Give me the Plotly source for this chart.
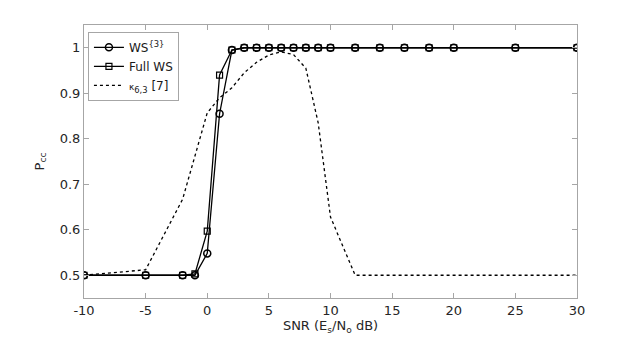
import plotly.graph_objects as go

# SNR points (dB)
snr = [-10, -5, -2, -1, 0, 1, 2, 3, 4, 5, 6, 7, 8, 9, 10, 12, 14, 16, 18, 20, 25, 30]
ws3 = [0.5, 0.5, 0.5, 0.5, 0.548, 0.855, 0.995, 1, 1, 1, 1, 1, 1, 1, 1, 1, 1, 1, 1, 1, 1, 1]
full_ws = [0.5, 0.5, 0.5, 0.503, 0.597, 0.94, 0.995, 1, 1, 1, 1, 1, 1, 1, 1, 1, 1, 1, 1, 1, 1, 1]

snr_k = [-10, -5, -2, 0, 1, 2, 3, 4, 5, 6, 7, 8, 9, 10, 12, 14, 16, 18, 20, 25, 30]
kappa = [0.5, 0.512, 0.667, 0.857, 0.89, 0.912, 0.945, 0.968, 0.984, 0.991, 0.985, 0.955, 0.835, 0.628, 0.5,
         0.5, 0.5, 0.5, 0.5, 0.5, 0.5]

xticks = [-10, -5, 0, 5, 10, 15, 20, 25, 30]
xlabels = ["-10", "-5", "0", "5", "10", "15", "20", "25", "30"]
yticks = [0.5, 0.6, 0.7, 0.8, 0.9, 1]
ylabels = ["0.5", "0.6", "0.7", "0.8", "0.9", "1"]

fig = go.Figure()
fig.add_trace(go.Scatter(x=snr, y=ws3, mode="lines+markers", name="WS<sup>{3}</sup>",
                         line=dict(color="black", width=1.3),
                         marker=dict(symbol="circle-open", size=7, color="black", line=dict(width=1.5))))
fig.add_trace(go.Scatter(x=snr, y=full_ws, mode="lines+markers", name="Full WS",
                         line=dict(color="black", width=1.3),
                         marker=dict(symbol="square-open", size=6, color="black", line=dict(width=1.2))))
fig.add_trace(go.Scatter(x=snr_k, y=kappa, mode="lines",
                         name="<span style='font-size:9px'>κ</span><sub>6,3</sub> [7]",
                         line=dict(color="black", width=1.3, dash="3px,3px")))

axis_style = dict(showline=True, linecolor="#a6a6a6", linewidth=1, mirror="ticks", ticks="inside",
                  ticklen=5, tickcolor="#a6a6a6", showgrid=False, zeroline=False, automargin=False,
                  tickfont=dict(size=13, color="#262626"))

fig.update_xaxes(range=[-10, 30], tickvals=xticks, ticktext=xlabels,
                 title=dict(text="SNR (E<sub>s</sub>/N<sub>o</sub> dB)", font=dict(size=13, color="#262626"),
                            standoff=4),
                 **axis_style)
fig.update_yaxes(range=[0.45, 1.05], tickvals=yticks, ticktext=ylabels,
                 title=dict(text="P<sub>cc</sub>", font=dict(size=13, color="#262626"), standoff=12),
                 **axis_style)

# the page body adds an 8px offset, so the margins are shifted to compensate
fig.update_layout(
    width=638, height=344,
    margin=dict(l=76, r=69, t=17, b=54),
    paper_bgcolor="white", plot_bgcolor="white",
    font=dict(family="DejaVu Sans", size=12, color="#262626"),
    legend=dict(x=0.008, y=0.975, xanchor="left", yanchor="top", bgcolor="white",
                bordercolor="#a6a6a6", borderwidth=1, itemwidth=30, tracegroupgap=0,
                font=dict(size=12, color="#1a1a1a")),
)

fig.write_html("out.html")
